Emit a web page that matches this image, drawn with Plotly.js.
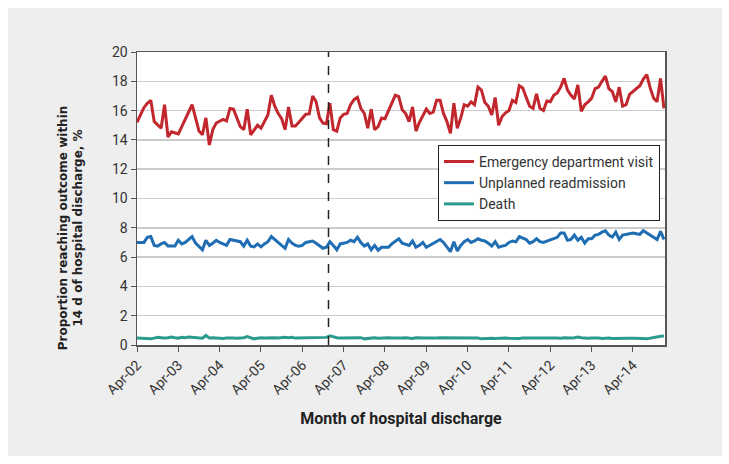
<!DOCTYPE html>
<html>
<head>
<meta charset="utf-8">
<script src="https://cdn.plot.ly/plotly-3.0.1.min.js"></script>
<style>
  html, body { margin: 0; padding: 0; background: #ffffff; }
  #chart { position: absolute; left: 8px; top: 8px; width: 714px; height: 448px; }
</style>
</head>
<body>
<div id="chart"></div>
<script>
// monthly proportions, Apr-02 .. Jan-15 (one row per Apr-Mar year)
const edVisit = [
  15.2, 15.7, 16.2, 16.5, 16.7, 15.25, 15.0, 14.8, 16.4, 14.2, 14.55, 14.45,
  14.4, 14.9, 15.4, 15.9, 16.4, 15.5, 14.6, 14.35, 15.5, 13.65, 14.7, 15.15,
  15.3, 15.4, 15.3, 16.15, 16.1, 15.5, 14.9, 14.7, 16.1, 14.35, 14.65, 15.0,
  14.8, 15.2, 15.7, 17.05, 16.3, 15.8, 15.45, 14.7, 16.25, 14.95, 14.95, 15.2,
  15.5, 15.75, 15.77, 17.0, 16.6, 15.5, 15.15, 15.1, 16.5, 14.7, 14.6, 15.5,
  15.75, 15.8, 16.4, 16.75, 16.9, 16.15, 15.8, 14.8, 16.1, 14.7, 14.9, 15.5,
  15.45, 16.0, 16.5, 17.05, 16.95, 16.05, 15.8, 15.25, 16.25, 14.6, 15.2, 15.6,
  16.1, 15.8, 15.9, 16.7, 16.7, 15.8, 15.25, 14.45, 16.5, 14.8, 15.5, 16.4,
  16.3, 16.6, 16.4, 17.6, 17.4, 16.55, 16.3, 15.7, 16.9, 15.0, 15.6, 15.85,
  16.0, 16.7, 16.55, 17.7, 17.55, 16.9, 16.3, 16.15, 17.15, 16.15, 16.0, 16.65,
  16.6, 17.05, 17.2, 17.6, 18.2, 17.4, 17.05, 16.8, 17.75, 15.95, 16.4, 16.6,
  16.85, 17.5, 17.6, 18.0, 18.35, 17.5, 17.3, 16.6, 17.6, 16.3, 16.4, 17.1,
  17.3, 17.45, 17.7, 18.15, 18.45, 17.55, 16.85, 16.6, 18.2, 16.15
];
const readmission = [
  7.0, 7.0, 7.0, 7.35, 7.4, 6.8, 6.75, 6.9, 7.0, 6.75, 6.75, 6.75,
  7.15, 6.9, 7.0, 7.2, 7.4, 6.95, 6.7, 6.5, 7.15, 6.8, 6.95, 7.15,
  7.0, 6.9, 6.8, 7.2, 7.15, 7.15, 7.05, 6.75, 7.15, 6.75, 6.7, 6.9,
  6.7, 6.9, 7.05, 7.4, 7.2, 7.0, 6.8, 6.6, 7.2, 6.95, 6.8, 6.75,
  6.8, 7.0, 7.05, 7.1, 6.95, 6.8, 6.6, 6.67, 7.05, 6.8, 6.5, 6.9,
  6.95, 7.0, 7.15, 7.05, 7.35, 7.0, 6.75, 6.9, 6.5, 6.8, 6.47, 6.67,
  6.67, 6.67, 6.9, 7.1, 7.25, 6.95, 6.9, 6.8, 7.1, 6.67, 6.8, 7.0,
  6.67, 6.8, 6.95, 7.05, 7.2, 7.0, 6.67, 6.37, 7.05, 6.42, 6.8, 7.05,
  7.2, 7.0, 7.1, 7.25, 7.15, 7.1, 6.95, 6.75, 7.05, 6.67, 6.75, 6.8,
  7.0, 7.1, 7.05, 7.4, 7.3, 7.2, 6.95, 7.05, 7.25, 7.05, 7.0, 7.1,
  7.15, 7.25, 7.35, 7.65, 7.65, 7.15, 7.2, 7.5, 7.15, 7.35, 6.95, 7.25,
  7.25, 7.5, 7.55, 7.7, 7.8, 7.5, 7.37, 7.7, 7.2, 7.5, 7.55, 7.6,
  7.65, 7.6, 7.55, 7.8, 7.65, 7.5, 7.35, 7.2, 7.75, 7.2
];
const death = [
  0.48, 0.47, 0.48, 0.45, 0.42, 0.47, 0.52, 0.5, 0.47, 0.5, 0.55, 0.5,
  0.47, 0.53, 0.5, 0.55, 0.52, 0.48, 0.5, 0.46, 0.65, 0.48, 0.5, 0.47,
  0.46, 0.45, 0.47, 0.5, 0.48, 0.46, 0.47, 0.5, 0.58, 0.48, 0.42, 0.46,
  0.5, 0.48, 0.5, 0.52, 0.5, 0.47, 0.5, 0.52, 0.5, 0.52, 0.47, 0.47,
  0.47, 0.5, 0.5, 0.48, 0.5, 0.48, 0.5, 0.52, 0.62, 0.55, 0.5, 0.48,
  0.48, 0.5, 0.48, 0.48, 0.46, 0.5, 0.42, 0.45, 0.5, 0.5, 0.46, 0.48,
  0.47, 0.5, 0.48, 0.47, 0.45, 0.48, 0.5, 0.47, 0.45, 0.5, 0.48, 0.45,
  0.47, 0.48, 0.45, 0.47, 0.5, 0.5, 0.48, 0.45, 0.47, 0.5, 0.48, 0.5,
  0.45, 0.45, 0.46, 0.47, 0.42, 0.45, 0.48, 0.46, 0.45, 0.47, 0.5, 0.48,
  0.46, 0.45, 0.42, 0.45, 0.47, 0.45, 0.47, 0.48, 0.45, 0.47, 0.48, 0.46,
  0.45, 0.47, 0.48, 0.46, 0.5, 0.47, 0.48, 0.5, 0.55, 0.5, 0.47, 0.46,
  0.48, 0.45, 0.47, 0.45, 0.48, 0.47, 0.45, 0.46, 0.48, 0.47, 0.45, 0.46,
  0.46, 0.47, 0.48, 0.45, 0.42, 0.47, 0.5, 0.55, 0.6, 0.62
];

// x tick labels, one per April
const aprilLabels = ['Apr-02', 'Apr-03', 'Apr-04', 'Apr-05', 'Apr-06', 'Apr-07', 'Apr-08',
                     'Apr-09', 'Apr-10', 'Apr-11', 'Apr-12', 'Apr-13', 'Apr-14'];
const aprilIndex = aprilLabels.map((_, i) => i * 12);

// month index of the policy change (dashed line), between Nov-06 and Dec-06
const changeMonth = 55.6;

const months = edVisit.map((_, i) => i);

const series = [
  { name: 'Emergency department visit', y: edVisit, color: '#c1272d' },
  { name: 'Unplanned readmission', y: readmission, color: '#1f6db3' },
  { name: 'Death', y: death, color: '#2a9b8c' }
];

const traces = series.map(s => ({
  x: months,
  y: s.y,
  name: s.name,
  mode: 'lines',
  line: { color: s.color, width: 3 },
  hoverinfo: 'skip'
}));

const narrow = 'Roboto, Arial, sans-serif';
const tickFont = { family: narrow, size: 14, color: '#333' };

Plotly.newPlot('chart', traces, {
  width: 714,
  height: 448,
  paper_bgcolor: '#eeeeee',
  plot_bgcolor: '#ffffff',
  margin: { l: 129, r: 57, t: 44, b: 111 },
  showlegend: true,
  legend: {
    x: 0.57, y: 0.683, xanchor: 'left', yanchor: 'top',
    bgcolor: '#ffffff', bordercolor: '#222', borderwidth: 1,
    font: { family: narrow, size: 14, color: '#333' },
    tracegroupgap: 0
  },
  xaxis: {
    range: [0, 153.3],
    tickmode: 'array',
    tickvals: aprilIndex,
    ticktext: aprilLabels,
    tickangle: -45,
    ticks: 'outside', ticklen: 5, tickcolor: '#555',
    showline: true, linecolor: '#555', linewidth: 1.5, mirror: true,
    showgrid: false, zeroline: false,
    tickfont: tickFont,
    title: {
      text: '<b>Month of hospital discharge</b>',
      font: { family: narrow, size: 16, color: '#222' },
      standoff: 16
    }
  },
  yaxis: {
    range: [0, 20],
    dtick: 2,
    ticks: 'outside', ticklen: 5, tickcolor: '#555',
    showline: true, linecolor: '#555', linewidth: 1.5, mirror: true,
    showgrid: true, gridcolor: '#cccccc', gridwidth: 1.5,
    zeroline: false,
    tickfont: tickFont
  },
  annotations: [{
    xref: 'paper', yref: 'paper', x: -0.126, y: 0.40,
    xanchor: 'center', yanchor: 'middle', textangle: -90, showarrow: false,
    text: '<b>Proportion reaching outcome within<br>14 d of hospital discharge, %</b>',
    font: { family: 'DejaVu Sans, Verdana, sans-serif', size: 12, color: '#222' }
  }],
  shapes: [{
    type: 'line', xref: 'x', yref: 'paper',
    x0: changeMonth, x1: changeMonth, y0: 0, y1: 1,
    line: { color: '#222', width: 1.5, dash: 'dash' }
  }]
}, { displayModeBar: false, staticPlot: true });
</script>
</body>
</html>
